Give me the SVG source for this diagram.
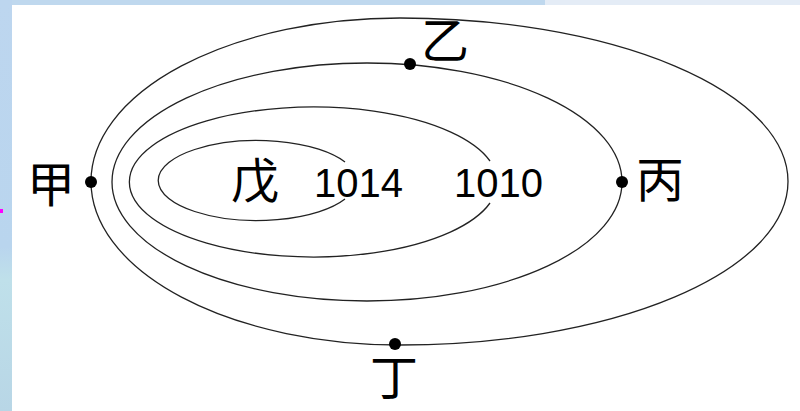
<svg xmlns="http://www.w3.org/2000/svg" width="800" height="411" viewBox="0 0 800 411">
<style>
.c{fill:none;stroke:#222;stroke-width:1.3}
.d{fill:#000}
.cjk{font-family:"Noto Sans CJK SC","Liberation Sans",sans-serif;font-size:48px;fill:#000;text-anchor:middle}
.num{font-family:"Liberation Sans",Arial,sans-serif;font-size:40px;fill:#000}
</style>
<defs>
<linearGradient id="lg" x1="0" y1="0" x2="0" y2="1">
<stop offset="0" stop-color="#bdd6ef"/>
<stop offset="0.6" stop-color="#b9d5ee"/>
<stop offset="0.68" stop-color="#bfe0ea"/>
<stop offset="1" stop-color="#b8d6e6"/>
</linearGradient>
</defs>
<rect x="0" y="0" width="800" height="411" fill="#fff"/>
<rect x="0" y="0" width="12" height="411" fill="url(#lg)"/>
<rect x="12" y="0" width="533" height="5" fill="#bfd8ee"/>
<rect x="545" y="0" width="255" height="5" fill="#e4ecf6"/>
<rect x="0" y="209" width="3" height="4" fill="#ff00ff"/>
<g id="connectors">
<path class="c" d="M400,18 A309 163.5 0 0 0 91,181.5 A309 163.5 0 0 0 400,345 A388 163.5 0 0 0 788,181.5 A388 163.5 0 0 0 400,18 Z"/>
<ellipse class="c" cx="367" cy="182" rx="255" ry="119"/>
<path class="c" d="M490,161 A184 75 0 1 0 490,203"/>
<path class="c" d="M345,162 A99 40 0 1 0 345,199"/>
</g>
<g id="jia"><circle class="d" cx="91" cy="182" r="6"/><text class="cjk" x="51" y="202">甲</text></g>
<g id="yi"><circle class="d" cx="410" cy="64" r="6"/><text class="cjk" x="445" y="58">乙</text></g>
<g id="bing"><circle class="d" cx="622" cy="182" r="6"/><text class="cjk" x="660" y="197">丙</text></g>
<g id="ding"><circle class="d" cx="395" cy="344" r="6"/><text class="cjk" x="394" y="395">丁</text></g>
<g id="wu"><text class="cjk" x="255" y="198">戊</text></g>
<g id="p1014"><text class="num" x="314" y="197">1014</text></g>
<g id="p1010"><text class="num" x="454" y="197">1010</text></g>
</svg>
